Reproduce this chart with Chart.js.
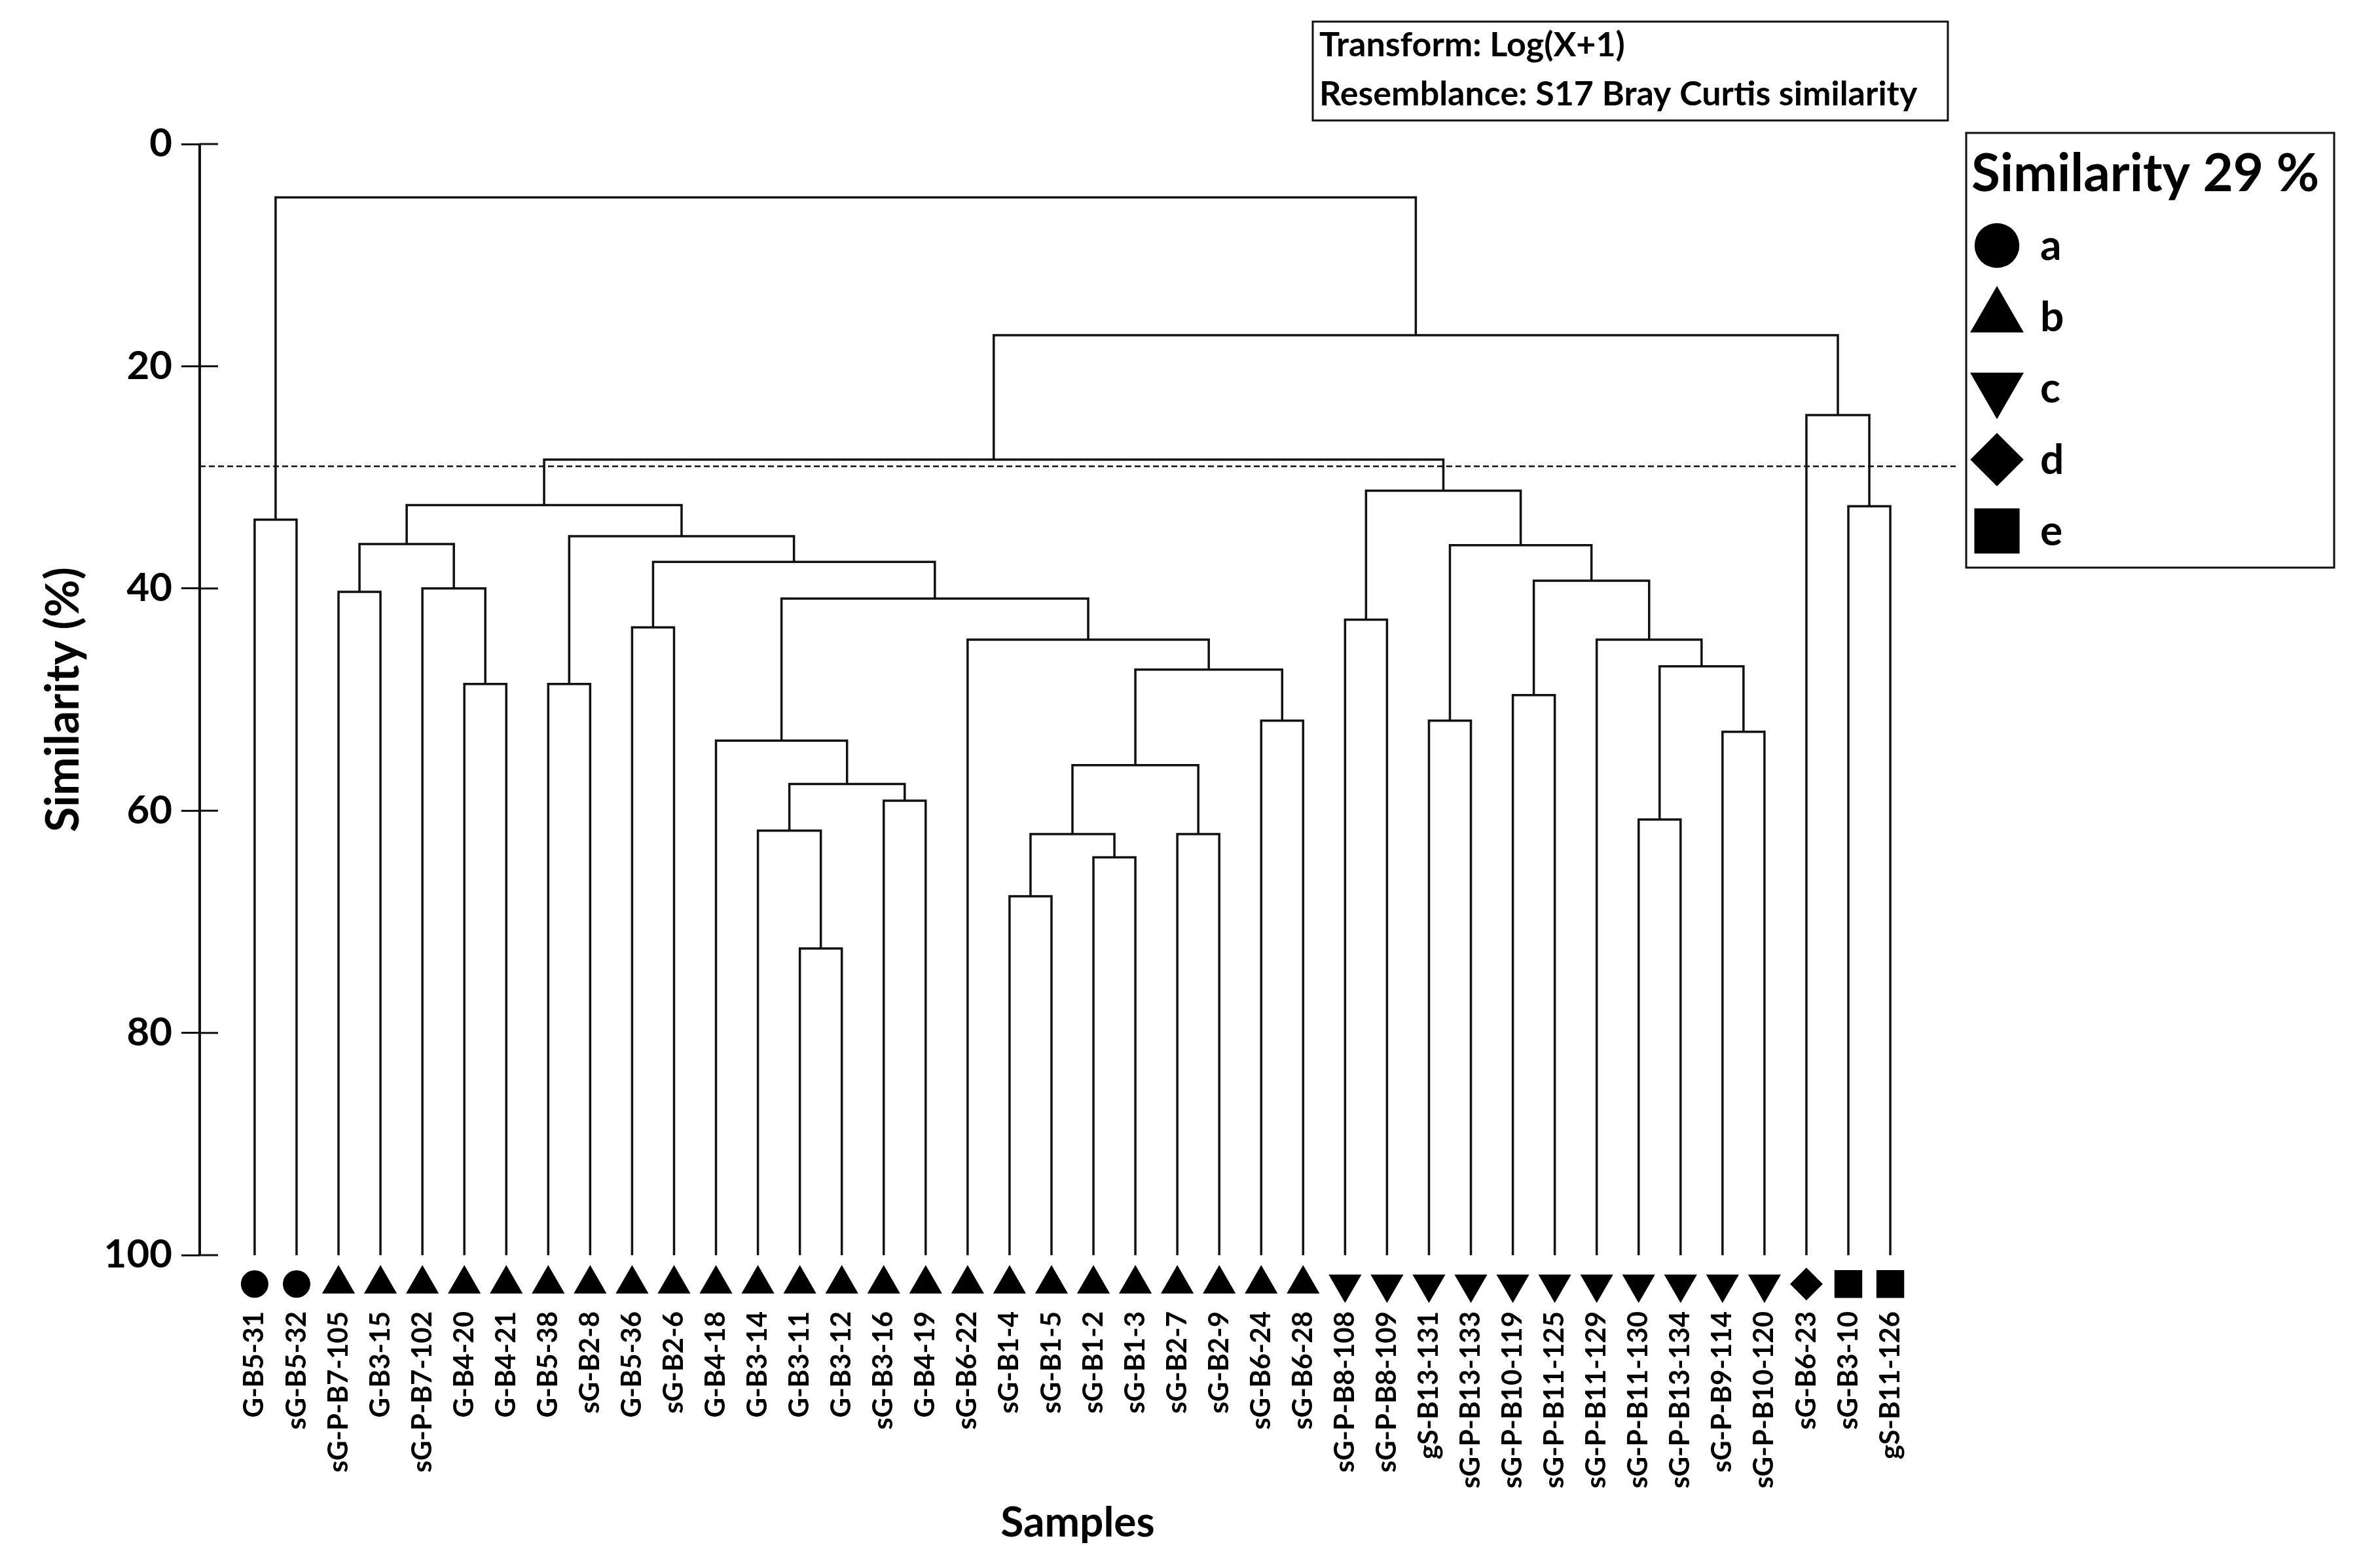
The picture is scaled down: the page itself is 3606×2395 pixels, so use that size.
<!DOCTYPE html>
<html>
<head>
<meta charset="utf-8">
<title>Dendrograma - Bray Curtis</title>
<script src="https://cdn.jsdelivr.net/npm/chart.js@4.4.1/dist/chart.umd.min.js"></script>
<style>
  html, body { margin: 0; padding: 0; background: #fff; }
  #wrap { width: 3606px; height: 2395px; }
</style>
</head>
<body>
<div id="wrap"><canvas id="dendro"></canvas></div>
<script>
// === DATOS ===
// Muestras (hojas) en el orden del dendrograma
const samples = [
  'G-B5-31', 'sG-B5-32', 'sG-P-B7-105', 'G-B3-15', 'sG-P-B7-102', 'G-B4-20', 'G-B4-21',
  'G-B5-38', 'sG-B2-8', 'G-B5-36', 'sG-B2-6', 'G-B4-18', 'G-B3-14', 'G-B3-11', 'G-B3-12',
  'sG-B3-16', 'G-B4-19', 'sG-B6-22', 'sG-B1-4', 'sG-B1-5', 'sG-B1-2', 'sG-B1-3', 'sG-B2-7',
  'sG-B2-9', 'sG-B6-24', 'sG-B6-28', 'sG-P-B8-108', 'sG-P-B8-109', 'gS-B13-131',
  'sG-P-B13-133', 'sG-P-B10-119', 'sG-P-B11-125', 'sG-P-B11-129', 'sG-P-B11-130',
  'sG-P-B13-134', 'sG-P-B9-114', 'sG-P-B10-120', 'sG-B6-23', 'sG-B3-10', 'gS-B11-126'
];

// Grupo de cada muestra al nivel de corte
const sampleGroups = [
  'a', 'a',
  'b', 'b', 'b', 'b', 'b', 'b', 'b', 'b', 'b', 'b', 'b', 'b', 'b', 'b', 'b', 'b', 'b', 'b', 'b', 'b', 'b', 'b', 'b', 'b',
  'c', 'c', 'c', 'c', 'c', 'c', 'c', 'c', 'c', 'c', 'c',
  'd',
  'e', 'e'
];
const groupNames = ['a', 'b', 'c', 'd', 'e'];

// Uniones: [hijo 1, hijo 2, similitud %]; indices < 40 son hojas, >= 40 son uniones anteriores (40 + n)
const merges = [
  [0, 1, 33.8],    // 40
  [2, 3, 40.3],    // 41
  [5, 6, 48.6],    // 42
  [4, 42, 40.0],   // 43
  [41, 43, 36.0],  // 44
  [7, 8, 48.6],    // 45
  [9, 10, 43.5],   // 46
  [13, 14, 72.4],  // 47
  [12, 47, 61.8],  // 48
  [15, 16, 59.1],  // 49
  [48, 49, 57.6],  // 50
  [11, 50, 53.7],  // 51
  [18, 19, 67.7],  // 52
  [20, 21, 64.2],  // 53
  [52, 53, 62.1],  // 54
  [22, 23, 62.1],  // 55
  [54, 55, 55.9],  // 56
  [24, 25, 51.9],  // 57
  [56, 57, 47.3],  // 58
  [17, 58, 44.6],  // 59
  [51, 59, 40.9],  // 60
  [46, 60, 37.6],  // 61
  [45, 61, 35.3],  // 62
  [44, 62, 32.5],  // 63
  [26, 27, 42.8],  // 64
  [28, 29, 51.9],  // 65
  [30, 31, 49.6],  // 66
  [33, 34, 60.8],  // 67
  [35, 36, 52.9],  // 68
  [67, 68, 47.0],  // 69
  [32, 69, 44.6],  // 70
  [66, 70, 39.3],  // 71
  [65, 71, 36.1],  // 72
  [64, 72, 31.2],  // 73
  [63, 73, 28.4],  // 74
  [38, 39, 32.6],  // 75
  [37, 75, 24.4],  // 76
  [74, 76, 17.2],  // 77
  [40, 77, 4.8]    // 78
];

const cutLevel = 29;                       // linea de corte (%)
const yTicks = [0, 20, 40, 60, 80, 100];
const yTitle = 'Similarity (%)';
const notes = ['Transform: Log(X+1)', 'Resemblance: S17 Bray Curtis similarity'];

// === ESTILOS ===
const lineColor = '#111';
const MARKER_ROW = 102.6;                  // fila de simbolos bajo el eje
const groupStyles = {
  a: { pointStyle: 'circle', rotation: 0, radius: 21 },
  b: { pointStyle: 'triangle', rotation: 0, radius: 29 },
  c: { pointStyle: 'triangle', rotation: 180, radius: 29 },
  d: { pointStyle: 'rectRot', rotation: 0, radius: 25 },
  e: { pointStyle: 'rect', rotation: 0, radius: 30 }
};

// === ARBOL: una serie (forma de U invertida) por union ===
const nodeX = samples.map((_, i) => i);
const nodeY = samples.map(() => 100);
const treeDatasets = merges.map(([a, b, sim]) => {
  const id = nodeX.length;
  nodeX[id] = (nodeX[a] + nodeX[b]) / 2;
  nodeY[id] = sim;
  return {
    data: [
      { x: nodeX[a], y: nodeY[a] },
      { x: nodeX[a], y: sim },
      { x: nodeX[b], y: sim },
      { x: nodeX[b], y: nodeY[b] }
    ],
    showLine: true,
    borderColor: lineColor,
    borderWidth: 3.5,
    borderJoinStyle: 'miter',
    pointRadius: 0,
    tension: 0,
    fill: false
  };
});

// === SIMBOLOS DE GRUPO bajo cada muestra ===
const markerDatasets = groupNames.map(g => ({
  label: g,
  data: samples.map((_, i) => i).filter(i => sampleGroups[i] === g).map(i => ({ x: i, y: MARKER_ROW })),
  pointStyle: groupStyles[g].pointStyle,
  pointRotation: groupStyles[g].rotation,
  pointRadius: groupStyles[g].radius,
  backgroundColor: '#000',
  borderColor: '#000',
  borderWidth: 0,
  showLine: false,
  clip: false
}));

// === Eje, linea de corte, titulo Y, cuadro de notas y leyenda ===
const decoracion = {
  id: 'decoracion',
  beforeDatasetsDraw(chart) {
    const { ctx, chartArea, scales: { y } } = chart;
    const yc = y.getPixelForValue(cutLevel);
    ctx.save();
    ctx.strokeStyle = lineColor;
    ctx.lineWidth = 2.5;
    ctx.setLineDash([9, 5]);
    ctx.beginPath();
    ctx.moveTo(chartArea.left, yc);
    ctx.lineTo(chartArea.right, yc);
    ctx.stroke();
    ctx.restore();
  },
  afterDraw(chart) {
    const { ctx, chartArea, scales: { y } } = chart;
    const x0 = chartArea.left;
    const yTop = y.getPixelForValue(yTicks[0]);
    const yBottom = y.getPixelForValue(yTicks[yTicks.length - 1]);
    ctx.save();
    ctx.strokeStyle = lineColor;
    // eje Y de 0 a 100
    ctx.lineWidth = 4;
    ctx.beginPath();
    ctx.moveTo(x0, yTop);
    ctx.lineTo(x0, yBottom);
    ctx.stroke();
    // parte interna de las marcas
    ctx.lineWidth = 3;
    yTicks.forEach(v => {
      const py = y.getPixelForValue(v);
      ctx.beginPath();
      ctx.moveTo(x0, py);
      ctx.lineTo(x0 + 28, py);
      ctx.stroke();
    });

    // titulo del eje Y, centrado sobre 0-100
    ctx.fillStyle = '#000';
    ctx.save();
    ctx.translate(97, (yTop + yBottom) / 2);
    ctx.rotate(-Math.PI / 2);
    ctx.textAlign = 'center';
    ctx.textBaseline = 'middle';
    ctx.font = "bold 70px 'Liberation Sans Narrow', Lato";
    ctx.fillText(yTitle, 0, 0);
    ctx.restore();

    // cuadro de notas
    ctx.strokeRect(2005, 33, 970, 151);
    ctx.textAlign = 'left';
    ctx.textBaseline = 'alphabetic';
    ctx.font = 'bold 52px Lato';
    notes.forEach((t, i) => ctx.fillText(t, 2015, 86 + i * 75));

    // leyenda
    ctx.strokeRect(3003, 203, 562, 664);
    ctx.font = 'bold 80px Lato';
    ctx.fillText(`Similarity ${cutLevel} %`, 3011, 292);
    ctx.font = 'bold 64px Lato';
    groupNames.forEach((g, i) => {
      const cy = 375 + i * 109;
      const st = groupStyles[g];
      Chart.helpers.drawPoint(ctx, {
        pointStyle: st.pointStyle,
        rotation: st.rotation,
        radius: st.radius * 1.63,
        borderWidth: 0
      }, 3050, cy);
      ctx.fillText(g, 3116, cy + 22);
    });
    ctx.restore();
  }
};

const ctx = document.getElementById('dendro').getContext('2d');
new Chart(ctx, {
  type: 'scatter',
  data: { datasets: [...treeDatasets, ...markerDatasets] },
  options: {
    responsive: true,
    maintainAspectRatio: false,
    animation: false,
    devicePixelRatio: 1,
    events: [],
    layout: { padding: { left: 40, top: 220, right: 619, bottom: 30 } },
    plugins: {
      legend: { display: false },
      tooltip: { enabled: false }
    },
    scales: {
      x: {
        type: 'linear',
        min: -1.31,
        max: 40.56,
        afterBuildTicks: s => { s.ticks = samples.map((_, i) => ({ value: i })); },
        afterFit: s => { s.height = 363; },
        grid: { display: false, drawTicks: false },
        border: { display: false },
        ticks: {
          autoSkip: false,
          minRotation: 90,
          maxRotation: 90,
          padding: 1,
          color: '#000',
          font: { family: 'Lato', size: 42, weight: 'bold' },
          callback: v => samples[v]
        },
        title: {
          display: true,
          text: 'Samples',
          color: '#000',
          font: { family: 'Lato', size: 64, weight: 'bold' },
          padding: { top: 0, bottom: 0 }
        }
      },
      y: {
        reverse: true,
        min: 0,
        max: 105,
        afterBuildTicks: s => { s.ticks = yTicks.map(v => ({ value: v })); },
        afterFit: s => { s.width = 265; },
        grid: { drawOnChartArea: false, drawTicks: true, tickLength: 28, tickWidth: 3, tickColor: lineColor },
        border: { display: false },
        ticks: {
          padding: 14,
          color: '#000',
          font: { family: 'Lato', size: 60, weight: 'bold' }
        }
      }
    }
  },
  plugins: [decoracion]
});
</script>
</body>
</html>
